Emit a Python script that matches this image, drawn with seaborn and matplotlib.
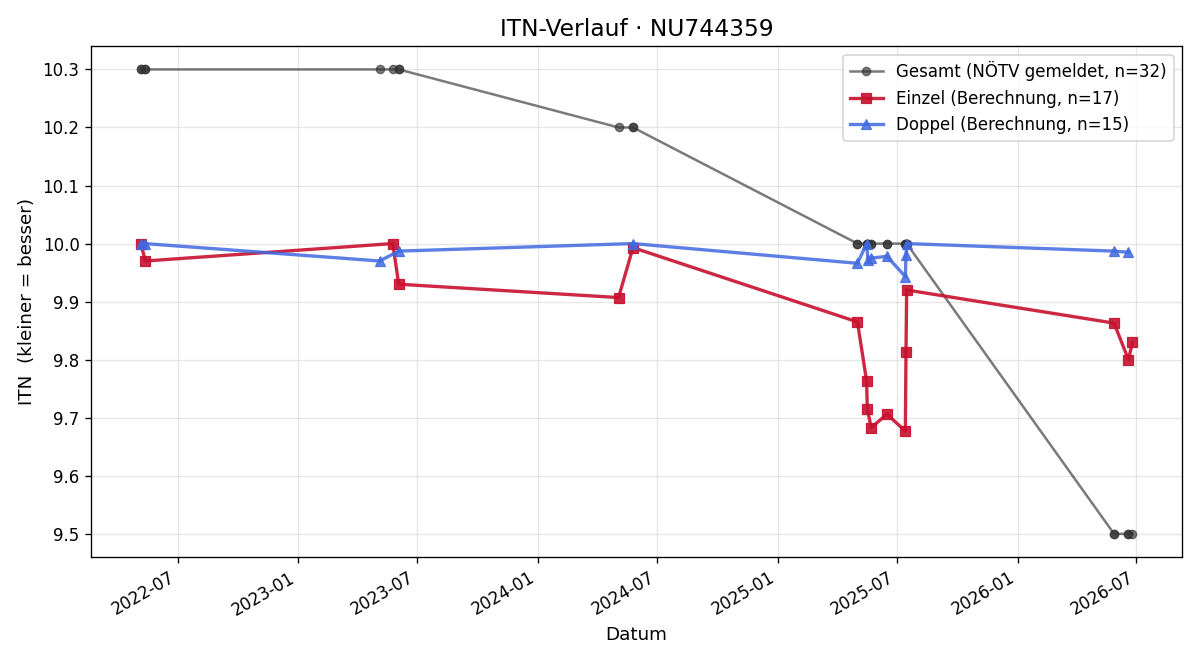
import pandas as pd
import numpy as np
import matplotlib
matplotlib.use("Agg")
import matplotlib.pyplot as plt
import seaborn as sns

#-----------------------------------------------------------------------
# data
einzel_dates = ['2022-05-06', '2022-05-13', '2023-05-25', '2023-06-03', '2024-05-03',
                '2024-05-25', '2025-05-02', '2025-05-16', '2025-05-17', '2025-05-23',
                '2025-06-16', '2025-07-14', '2025-07-15', '2025-07-16', '2026-05-28',
                '2026-06-19', '2026-06-25']
einzel_itn = [10.000, 9.970, 10.000, 9.930, 9.907,
              9.993, 9.865, 9.763, 9.715, 9.683,
              9.706, 9.677, 9.813, 9.920, 9.863,
              9.800, 9.830]

doppel_dates = ['2022-05-06', '2022-05-12', '2023-05-05', '2023-06-03', '2024-05-25',
                '2025-05-02', '2025-05-16', '2025-05-18', '2025-05-23', '2025-06-16',
                '2025-07-14', '2025-07-15', '2025-07-16', '2026-05-28', '2026-06-19']
doppel_itn = [10.000, 10.000, 9.970, 9.987, 10.000,
              9.966, 10.000, 9.971, 9.975, 9.978,
              9.943, 9.980, 10.000, 9.987, 9.985]

gesamt_dates = ['2022-05-06', '2022-05-06', '2022-05-12', '2022-05-13', '2023-05-05',
                '2023-05-25', '2023-06-03', '2023-06-03', '2024-05-03', '2024-05-25',
                '2024-05-25', '2025-05-02', '2025-05-02', '2025-05-16', '2025-05-16',
                '2025-05-17', '2025-05-18', '2025-05-23', '2025-05-23', '2025-06-16',
                '2025-06-16', '2025-07-14', '2025-07-14', '2025-07-15', '2025-07-15',
                '2025-07-16', '2025-07-16', '2026-05-28', '2026-05-28', '2026-06-19',
                '2026-06-19', '2026-06-25']
gesamt_itn = [10.3, 10.3, 10.3, 10.3, 10.3,
              10.3, 10.3, 10.3, 10.2, 10.2,
              10.2, 10.0, 10.0, 10.0, 10.0,
              10.0, 10.0, 10.0, 10.0, 10.0,
              10.0, 10.0, 10.0, 10.0, 10.0,
              10.0, 10.0, 9.5, 9.5, 9.5,
              9.5, 9.5]

df_g = pd.DataFrame({'Datum': pd.to_datetime(gesamt_dates), 'ITN': gesamt_itn})
df_e = pd.DataFrame({'Datum': pd.to_datetime(einzel_dates), 'ITN': einzel_itn})
df_d = pd.DataFrame({'Datum': pd.to_datetime(doppel_dates), 'ITN': doppel_itn})

#-----------------------------------------------------------------------
# plot
fig, ax = plt.subplots(figsize=(10, 5.5), dpi=120)

sns.lineplot(data=df_g, x='Datum', y='ITN', ax=ax,
             estimator=None, sort=False,
             color='#333333', alpha=0.65, linewidth=1.5,
             marker='o', markersize=5, markeredgecolor='#333333',
             label=f'Gesamt (NÖTV gemeldet, n={len(df_g)})')
sns.lineplot(data=df_e, x='Datum', y='ITN', ax=ax,
             estimator=None, sort=False,
             color='#C8102E', alpha=0.9, linewidth=2,
             marker='s', markersize=6, markeredgecolor='#C8102E',
             label=f'Einzel (Berechnung, n={len(df_e)})')
sns.lineplot(data=df_d, x='Datum', y='ITN', ax=ax,
             estimator=None, sort=False,
             color='#4169E1', alpha=0.85, linewidth=2,
             marker='^', markersize=6, markeredgecolor='#4169E1',
             label=f'Doppel (Berechnung, n={len(df_d)})')

ax.grid(True, alpha=0.3)
ax.set_title('ITN-Verlauf · NU744359', fontsize=14)
ax.set_xlabel('Datum', fontsize=11)
ax.set_ylabel('ITN  (kleiner = besser)', fontsize=11)
ax.legend(loc='upper right', fontsize=10)
fig.autofmt_xdate()

plt.subplots_adjust(left=0.076, right=0.985, top=0.930, bottom=0.156)
plt.savefig('out.png', dpi=120)
plt.close()
